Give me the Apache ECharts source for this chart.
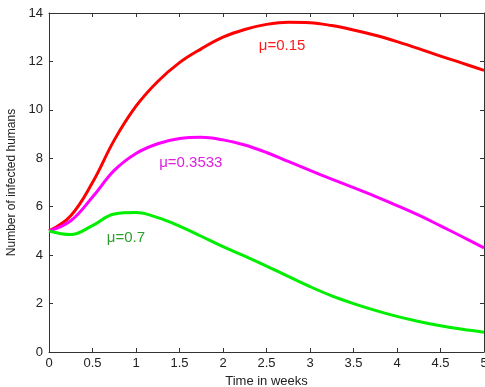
<!DOCTYPE html>
<html>
<head>
<meta charset="utf-8">
<script src="https://cdn.jsdelivr.net/npm/echarts@6/dist/echarts.min.js"></script>
<style>
  html, body { margin: 0; padding: 0; background: #fff; }
  #chart { width: 485px; height: 387px; }
</style>
</head>
<body>
<div id="chart"></div>
<script>
// time in weeks
const weeks = [0, 0.25, 0.5, 0.75, 1, 1.25, 1.5, 1.75, 2, 2.25, 2.5, 2.75, 3, 3.25, 3.5, 3.75, 4, 4.25, 4.5, 4.75, 5]
// infected humans, one array per mu
const mu015 = [5, 5.63, 7.0, 8.75, 10.15, 11.17, 11.95, 12.52, 13.0, 13.32, 13.53, 13.62, 13.6, 13.48, 13.3, 13.08, 12.82, 12.53, 12.22, 11.93, 11.63]
const mu03533 = [5, 5.42, 6.4, 7.5, 8.2, 8.6, 8.82, 8.87, 8.76, 8.55, 8.24, 7.87, 7.5, 7.14, 6.79, 6.43, 6.05, 5.65, 5.21, 4.76, 4.3]
const mu07 = [5, 4.85, 5.22, 5.7, 5.76, 5.55, 5.2, 4.78, 4.35, 3.96, 3.55, 3.12, 2.7, 2.32, 2.0, 1.72, 1.47, 1.26, 1.08, 0.94, 0.82]

const pairs = vals => weeks.map((t, i) => [t, vals[i]])

const font = 'Liberation Sans, Arial, sans-serif'

// curve captions, placed in data coordinates
const labelMark = (text, coord, color) => ({
  symbol: 'circle',
  symbolSize: 1,
  silent: true,
  itemStyle: { color: 'rgba(0,0,0,0)' },
  data: [{ coord: coord, value: 0 }],
  label: { show: true, formatter: text, color: color, fontSize: 15, fontFamily: font, position: 'inside' }
})

const axisCommon = {
  type: 'value',
  axisLine: { show: true, onZero: false, lineStyle: { color: '#333', width: 1 } },
  axisTick: { show: true, inside: true, length: 4, lineStyle: { color: '#333' } },
  splitLine: { show: false }
}
const lbl = { color: '#222', fontSize: 13, fontFamily: font }

const myChart = echarts.init(document.getElementById('chart'))
myChart.setOption({
  animation: false,
  grid: { left: 49, top: 13, right: 1, bottom: 35, containLabel: false, outerBoundsMode: 'none' },
  xAxis: [
    Object.assign({}, axisCommon, {
      min: 0, max: 5, interval: 0.5,
      name: 'Time in weeks',
      nameLocation: 'middle',
      nameGap: 21,
      nameTextStyle: lbl,
      axisLabel: Object.assign({ margin: 5 }, lbl)
    }),
    Object.assign({}, axisCommon, {
      min: 0, max: 5, interval: 0.5, position: 'top',
      axisLabel: { show: false }
    })
  ],
  yAxis: [
    Object.assign({}, axisCommon, {
      min: 0, max: 14, interval: 2,
      name: 'Number of infected humans',
      nameLocation: 'middle',
      nameGap: 22,
      nameTextStyle: { color: '#222', fontSize: 12, fontFamily: font },
      axisLabel: Object.assign({ margin: 6 }, lbl)
    }),
    Object.assign({}, axisCommon, {
      min: 0, max: 14, interval: 2, position: 'right',
      axisLabel: { show: false }
    })
  ],
  series: [
    {
      type: 'line', data: pairs(mu015), smooth: 0.4, showSymbol: false,
      lineStyle: { color: '#ff0000', width: 3 },
      markPoint: labelMark('μ=0.15', [2.68, 12.64], '#ff1a1a')
    },
    {
      type: 'line', data: pairs(mu03533), smooth: 0.4, showSymbol: false,
      lineStyle: { color: '#ff00ff', width: 3 },
      markPoint: labelMark('μ=0.3533', [1.63, 7.81], '#e020e0')
    },
    {
      type: 'line', data: pairs(mu07), smooth: 0.4, showSymbol: false,
      lineStyle: { color: '#00ee00', width: 3 },
      markPoint: labelMark('μ=0.7', [0.885, 4.71], '#2ea02e')
    }
  ]
})
</script>
</body>
</html>
